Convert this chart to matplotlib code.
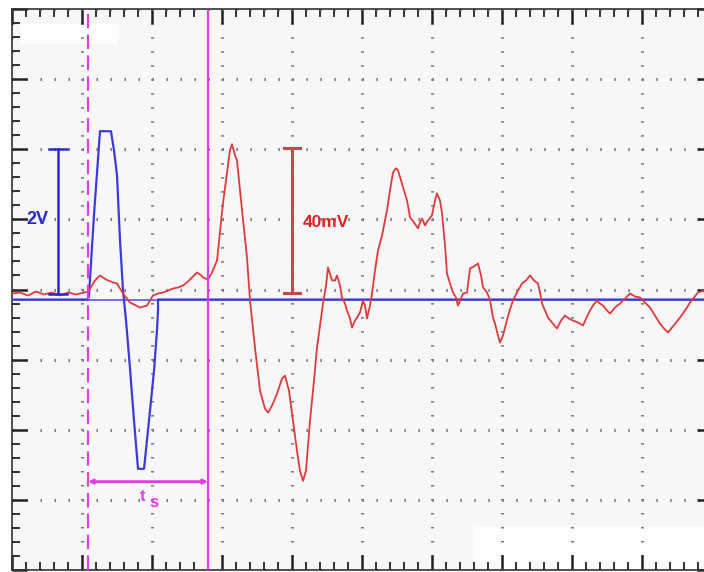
import numpy as np
import matplotlib
matplotlib.use("Agg")
import matplotlib.pyplot as plt
from matplotlib.ticker import MultipleLocator
from matplotlib.patches import Rectangle

# time in screen divisions, signals in divisions (red 20 mV/div, blue 1 V/div)
red_t = [0, 0.114, 0.229, 0.343, 0.457, 0.571, 0.686, 0.8, 0.914, 1.029, 1.086,
         1.1, 1.186, 1.257, 1.343, 1.443, 1.5, 1.586, 1.686, 1.771, 1.829, 1.929,
         2.014, 2.086, 2.157, 2.229, 2.3, 2.371, 2.443, 2.514, 2.571, 2.643, 2.686,
         2.729, 2.8, 2.857, 2.929, 3.014, 3.114, 3.143, 3.186, 3.214, 3.286, 3.357,
         3.4, 3.471, 3.543, 3.614, 3.657, 3.714, 3.786, 3.857, 3.9, 3.957, 4.014,
         4.071, 4.114, 4.157, 4.2, 4.257, 4.314, 4.357, 4.4, 4.443, 4.486, 4.514,
         4.571, 4.614, 4.643, 4.686, 4.714, 4.757, 4.786, 4.829, 4.857, 4.9, 4.929,
         4.971, 5.014, 5.043, 5.071, 5.114, 5.143, 5.186, 5.229, 5.286, 5.357, 5.4,
         5.443, 5.486, 5.514, 5.586, 5.643, 5.686, 5.743, 5.8, 5.829, 5.857, 5.9,
         5.943, 6.0, 6.043, 6.071, 6.114, 6.143, 6.186, 6.214, 6.257, 6.3, 6.343,
         6.371, 6.414, 6.443, 6.5, 6.543, 6.6, 6.657, 6.7, 6.729, 6.786, 6.829,
         6.871, 6.9, 6.943, 6.971, 7.014, 7.043, 7.1, 7.157, 7.214, 7.286, 7.343,
         7.4, 7.457, 7.514, 7.543, 7.571, 7.614, 7.657, 7.714, 7.786, 7.843, 7.9,
         7.957, 8.014, 8.086, 8.157, 8.214, 8.257, 8.3, 8.357, 8.4, 8.443, 8.5,
         8.543, 8.614, 8.686, 8.757, 8.829, 8.9, 8.971, 9.043, 9.114, 9.186, 9.257,
         9.314, 9.371, 9.429, 9.486, 9.543, 9.614, 9.686, 9.743, 9.8, 9.886, 10.0]
red_v = [-0.057, -0.043, -0.086, -0.029, -0.071, -0.043, -0.086, -0.043, -0.071, -0.043, -0.029,
         -0.014, 0.129, 0.2, 0.143, 0.1, 0.086, -0.057, -0.186, -0.229, -0.257, -0.229,
         -0.086, -0.057, -0.043, -0.014, 0.014, 0.029, 0.057, 0.114, 0.171, 0.243, 0.214,
         0.171, 0.143, 0.243, 0.414, 1.229, 1.986, 2.071, 1.914, 1.843, 1.129, 0.457,
         -0.157, -0.829, -1.443, -1.7, -1.757, -1.657, -1.486, -1.271, -1.229, -1.443, -1.871,
         -2.3, -2.586, -2.729, -2.586, -1.871, -1.3, -0.829, -0.514, -0.2, 0.057, 0.314,
         0.129, 0.129, 0.2, 0.057, -0.114, -0.2, -0.3, -0.414, -0.543, -0.443, -0.4,
         -0.329, -0.157, -0.229, -0.414, -0.229, -0.057, 0.271, 0.557, 0.771, 1.129, 1.414,
         1.671, 1.729, 1.7, 1.457, 1.271, 1.029, 0.957, 0.871, 0.957, 1.014, 0.914,
         0.986, 1.057, 1.271, 1.371, 1.271, 1.086, 0.629, 0.229, 0.086, -0.043, -0.114,
         -0.229, -0.129, -0.057, -0.043, 0.3, 0.329, 0.371, 0.2, 0.029, -0.043, -0.157,
         -0.4, -0.486, -0.657, -0.757, -0.657, -0.543, -0.329, -0.157, -0.043, 0.086, 0.129,
         0.2, 0.129, 0.086, -0.043, -0.2, -0.3, -0.4, -0.471, -0.557, -0.443, -0.371,
         -0.414, -0.443, -0.471, -0.514, -0.386, -0.3, -0.229, -0.157, -0.2, -0.229, -0.3,
         -0.343, -0.257, -0.2, -0.129, -0.057, -0.1, -0.114, -0.186, -0.257, -0.371, -0.486,
         -0.557, -0.614, -0.543, -0.471, -0.4, -0.3, -0.186, -0.114, -0.043, -0.014, 0.0]

blue_t = [0, 1.086, 1.1, 1.171, 1.257, 1.414, 1.457, 1.5, 1.543, 1.586, 1.629, 1.686,
          1.743, 1.8, 1.886, 1.957, 2.029, 2.071, 2.086, 2.086, 10.0]
blue_v = [-0.143, -0.143, -0.086, 1.057, 2.257, 2.257, 1.986, 1.629, 0.7, -0.014, -0.443, -1.129,
          -1.871, -2.557, -2.557, -1.871, -1.157, -0.586, -0.3, -0.143, -0.143]

# cursors (div) and scale bars
t_start, t_end = 1.086, 2.8
ts_level = -2.74
bar_2v = (0.657, -0.06, 2.0)      # x, bottom, top
bar_40mv = (4.0, -0.043, 2.014)

MAGENTA = "#e23ce2"
RED = "#e03a3a"
BLUE = "#3c3cdc"

fig = plt.figure(figsize=(7.04, 5.72), dpi=100)
fig.patch.set_facecolor("white")
ax = fig.add_axes([12 / 704, 2 / 572, 700 / 704, 561 / 572])
ax.set_facecolor("#f7f7f7")
ax.set_xlim(0, 10)
ax.set_ylim(-4, 4)

# washed out patches like in the screenshot
ax.add_patch(Rectangle((0.12, 3.5), 1.4, 0.28, color="#fdfdfd", zorder=0.5, lw=0))
ax.add_patch(Rectangle((6.6, -4), 3.4, 0.62, color="#fdfdfd", zorder=0.5, lw=0))

# scope ticks
ax.xaxis.set_major_locator(MultipleLocator(1))
ax.xaxis.set_minor_locator(MultipleLocator(0.2))
ax.yaxis.set_major_locator(MultipleLocator(1))
ax.yaxis.set_minor_locator(MultipleLocator(0.2))
ax.tick_params(which="both", direction="in", top=True, right=True,
               labelbottom=False, labelleft=False, color="#222222")
ax.tick_params(which="major", length=11, width=1.8)
ax.tick_params(which="minor", length=6, width=1.3)
for s in ax.spines.values():
    s.set_color("#333333")
    s.set_linewidth(1.2)

# dotted graticule, one dot per minor step
ax.grid(which="major", color="#7a7a7a", linewidth=2.2, linestyle=(0, (0.5, 4.08)))

# traces
ax.plot(blue_t, blue_v, color=BLUE, lw=1.6, zorder=3)
ax.axhline(blue_v[0], color="#4a4af0", lw=1.1, zorder=2)
ax.plot(red_t, red_v, color=RED, lw=1.3, zorder=4)

# cursors
ax.axvline(t_start, color=MAGENTA, lw=1.5, linestyle=(0, (7, 3)), zorder=5)
ax.axvline(t_end, color=MAGENTA, lw=1.5, zorder=5)
ax.annotate("", xy=(t_start, ts_level), xytext=(t_end, ts_level),
            arrowprops=dict(arrowstyle="<->", color=MAGENTA, lw=2,
                            mutation_scale=6, shrinkA=0, shrinkB=0), zorder=6)
ax.text(1.87, -2.95, "t", color=MAGENTA, fontsize=12, fontweight="bold",
        family="Liberation Sans", ha="center", va="center")
ax.text(2.03, -3.04, "s", color=MAGENTA, fontsize=12, fontweight="bold",
        family="Liberation Sans", ha="center", va="center")

# 2V bar
x, lo, hi = bar_2v
ax.plot([x, x], [lo, hi], color="#2a2ac8", lw=1.8, zorder=5)
for yy in (lo, hi):
    ax.plot([x - 0.13, x + 0.13], [yy, yy], color="#2a2ac8", lw=1.8, zorder=5)
ax.text(0.357, 1.0, "2V", color="#2a2ad0", fontsize=13, fontweight="bold",
        family="Liberation Sans", ha="center", va="center")

# 40mV bar
x, lo, hi = bar_40mv
ax.plot([x, x], [lo, hi], color="#c84848", lw=2.2, zorder=5)
for yy in (lo, hi):
    ax.plot([x - 0.11, x + 0.11], [yy, yy], color="#c84848", lw=2.2, zorder=5)
ax.text(4.15, 0.96, "40mV", color="#dd2222", fontsize=12.5, fontweight="bold",
        family="Liberation Sans", ha="left", va="center")

fig.savefig("out.png", dpi=100)
